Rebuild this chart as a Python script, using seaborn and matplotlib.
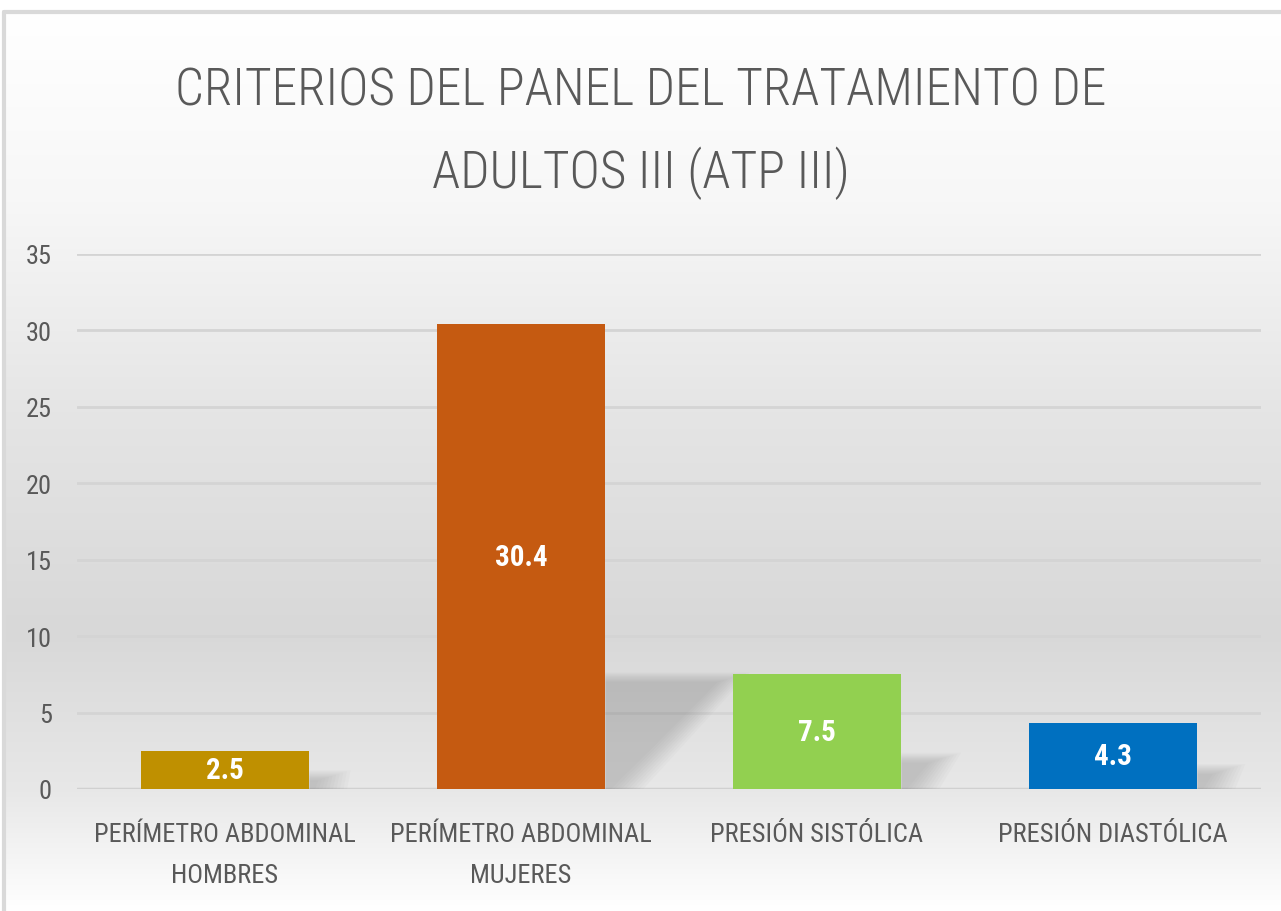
import numpy as np
import pandas as pd
import matplotlib
matplotlib.use('Agg')
import matplotlib.pyplot as plt
import seaborn as sns
from matplotlib.patches import Polygon

# data
categories = ['PERÍMETRO ABDOMINAL\nHOMBRES', 'PERÍMETRO ABDOMINAL\nMUJERES',
              'PRESIÓN SISTÓLICA', 'PRESIÓN DIASTÓLICA']
values = [2.5, 30.4, 7.5, 4.3]
bar_colors = ['#BF9000', '#C55A11', '#92D050', '#0070C0']
y_ticks = [0, 5, 10, 15, 20, 25, 30, 35]
title = 'CRITERIOS DEL PANEL DEL TRATAMIENTO DE\nADULTOS III (ATP III)'

sns.set_theme(style='white')
plt.rcParams['font.family'] = ['Roboto Condensed', 'DejaVu Sans']
plt.rcParams['font.stretch'] = 'condensed'

W, H = 1281, 912
fig = plt.figure(figsize=(W / 100, H / 100), dpi=100)
fig.patch.set_facecolor('white')

# chart area background: soft vertical gradient
bg = fig.add_axes([4 / W, 0, 1 - 4 / W, (H - 13) / H], zorder=0)
stops_y = [0, 190, 400, 620, 780, 899]
stops_v = [255, 247, 229, 216, 232, 255]
grad = np.interp(np.arange(900), stops_y, stops_v) / 255.0
img = np.repeat(grad[:, None], 2, axis=1)
bg.imshow(np.dstack([img, img, img]), aspect='auto', extent=[0, 1, 0, 1], origin='upper')
bg.set_xlim(0, 1)
bg.set_ylim(0, 1)
bg.axis('off')
bg.plot([0, 1], [1, 1], color='#d9d9d9', lw=3, transform=bg.transAxes, clip_on=False)
bg.plot([0, 0], [0, 1], color='#d9d9d9', lw=3, transform=bg.transAxes, clip_on=False)

ax = fig.add_axes([77 / W, 1 - 790 / H, (1261 - 77) / W, (790 - 255) / H], zorder=2)
ax.patch.set_alpha(0)

df = pd.DataFrame({'cat': categories, 'val': values})
sns.barplot(data=df, x='cat', y='val', hue='cat', palette=bar_colors, legend=False,
            width=0.57, ax=ax, saturation=1, zorder=3, linewidth=0)

# soft floor shadows behind each bar
for i, v in enumerate(values):
    xr = i + 0.285
    hs = 0.23 * v
    dx = 0.0125 * v
    for k in range(10):
        g = k * 0.012
        poly = Polygon([(xr, 0), (xr, hs + g * 6), (xr + dx + g, hs + g * 6),
                        (xr + 0.02 + g, 0)],
                       closed=True, facecolor='#7f7f7f', alpha=0.04, edgecolor='none', zorder=2)
        ax.add_patch(poly)

ax.set_ylim(0, 35)
ax.set_xlim(-0.5, 3.5)
ax.set_yticks(y_ticks)
ax.yaxis.grid(True, color='#d4d4d4', lw=2)
ax.set_axisbelow(True)
for s in ax.spines.values():
    s.set_visible(False)
ax.axhline(0, color='#d0d0d0', lw=2.5, zorder=1)
ax.set_xlabel('')
ax.set_ylabel('')
ax.tick_params(axis='y', labelsize=19, labelcolor='#595959', length=0, pad=18)
ax.tick_params(axis='x', labelsize=19, labelcolor='#595959', length=0, pad=24)
for lab in ax.get_xticklabels():
    lab.set_linespacing(1.9)

for c in ax.containers:
    ax.bar_label(c, label_type='center', color='white', fontsize=21, fontweight='bold',
                 fmt='%.1f')

fig.text(0.5, 1 - 133 / H, title, ha='center', va='center', fontsize=37,
         color='#595959', linespacing=1.72, fontweight='light')

fig.savefig('out.png', dpi=100)
